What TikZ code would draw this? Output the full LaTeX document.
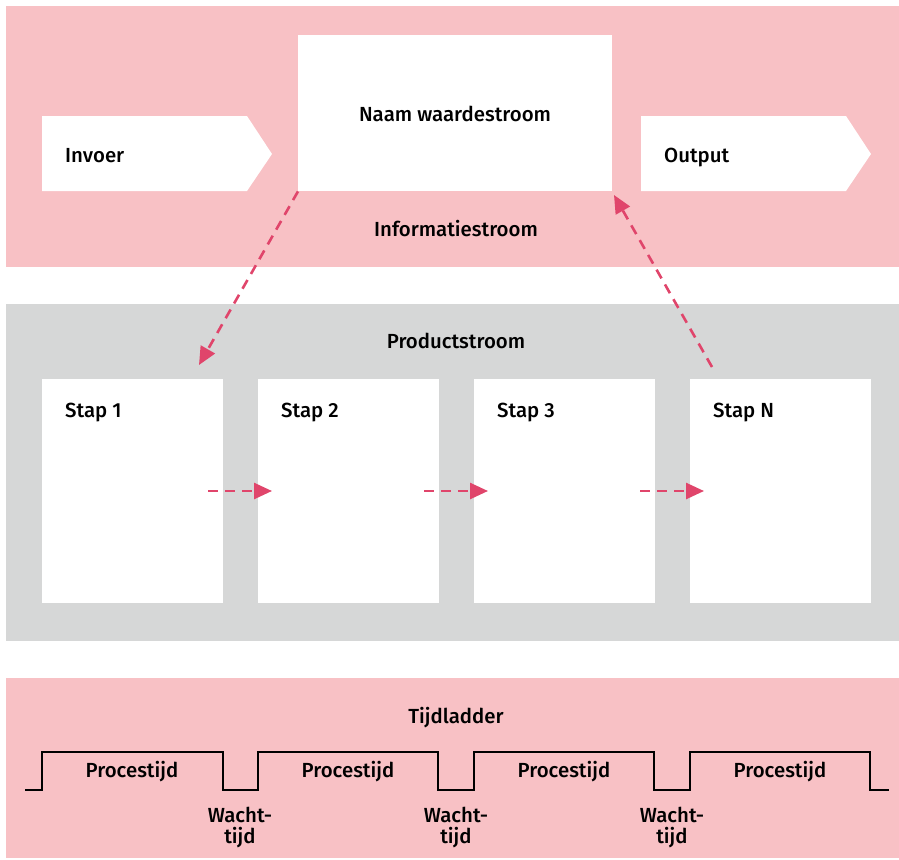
\documentclass[tikz,border=0pt]{standalone}
\usepackage{fontspec}
\setmainfont{Fira Sans}[UprightFont={* Medium},BoldFont={* SemiBold}]
\usetikzlibrary{arrows.meta}
\definecolor{bandpink}{HTML}{F8C1C5}
\definecolor{bandgrey}{HTML}{D6D7D7}
\definecolor{arrowred}{HTML}{E0456B}
\tikzset{
  band/.style={fill=#1, draw=none},
  whitebox/.style={fill=white, draw=none, inner sep=0pt, anchor=north west},
  lbl/.style={font=\fontsize{20.4}{21}\selectfont, inner sep=0pt, text=black, anchor=base},
  flow/.style={draw=arrowred, line width=2.6pt, dash pattern=on 10pt off 7pt,
    -{Triangle[length=18pt,width=16pt]}},
  ladder/.style={draw=black, line width=1.3pt},
}
\begin{document}
\begin{tikzpicture}[x=1pt,y=-1pt]
\useasboundingbox (0,0) rectangle (899,859);
% bands
\fill[band=bandpink] (6,6) rectangle (899,267);
\fill[band=bandgrey] (6,304) rectangle (899,641);
\fill[band=bandpink] (6,678) rectangle (899,858);
% top row
\fill[white] (42,116) -- (247,116) -- (272,154) -- (247,191) -- (42,191) -- cycle;
\fill[white] (641,116) -- (846,116) -- (871,154) -- (846,191) -- (641,191) -- cycle;
\node[lbl, anchor=base west] (invoer) at (65,162) {Invoer};
\node[lbl, anchor=base west] (output) at (664,162) {Output};
\node[whitebox, minimum width=314pt, minimum height=156pt] (naam) at (298,35) {};
\node[lbl] (naamlbl) at (455,121) {Naam waardestroom};
\node[lbl] (info) at (456,236) {Informatiestroom};
% product flow
\node[lbl] (prod) at (456,348) {Productstroom};
\foreach \i/\x/\t in {1/42/Stap 1, 2/258/Stap 2, 3/474/Stap 3, 4/690/Stap N}{
  \node[whitebox, minimum width=181pt, minimum height=224pt] (stap\i) at (\x,379) {};
  \node[lbl, anchor=base west] (stap\i lbl) at (\x+23,417) {\t};
}
\coordinate (in1) at (199,365);
\coordinate (outN) at (712,367);
\coordinate (naamin) at (614,195);
\draw[flow] (naam.south west) -- (in1);
\draw[flow] (outN) -- (naamin);
\foreach \a/\b in {1/2,2/3,3/4}{
  \coordinate (h\a s) at ([xshift=-15pt]stap\a.east |- 0,491);
  \coordinate (h\a e) at ([xshift=14pt]stap\b.west |- 0,491);
  \draw[flow] (h\a s) -- (h\a e);
}
% time ladder
\node[lbl] (tijd) at (456,723) {Tijdladder};
\draw[ladder] (25,790) -- (42,790) -- (42,752) -- (223,752) -- (223,790) -- (258,790) -- (258,752)
  -- (438,752) -- (438,790) -- (474,790) -- (474,752) -- (654,752) -- (654,790) -- (690,790)
  -- (690,752) -- (870,752) -- (870,790) -- (889,790);
\foreach \i/\x in {1/132,2/348,3/564,4/780}{
  \node[lbl] (proc\i) at (\x,777) {Procestijd};
}
\foreach \i/\x in {1/240,2/456,3/672}{
  \node[lbl, align=center] (wacht\i) at (\x,843) {Wacht-\\tijd};
}
\end{tikzpicture}
\end{document}
